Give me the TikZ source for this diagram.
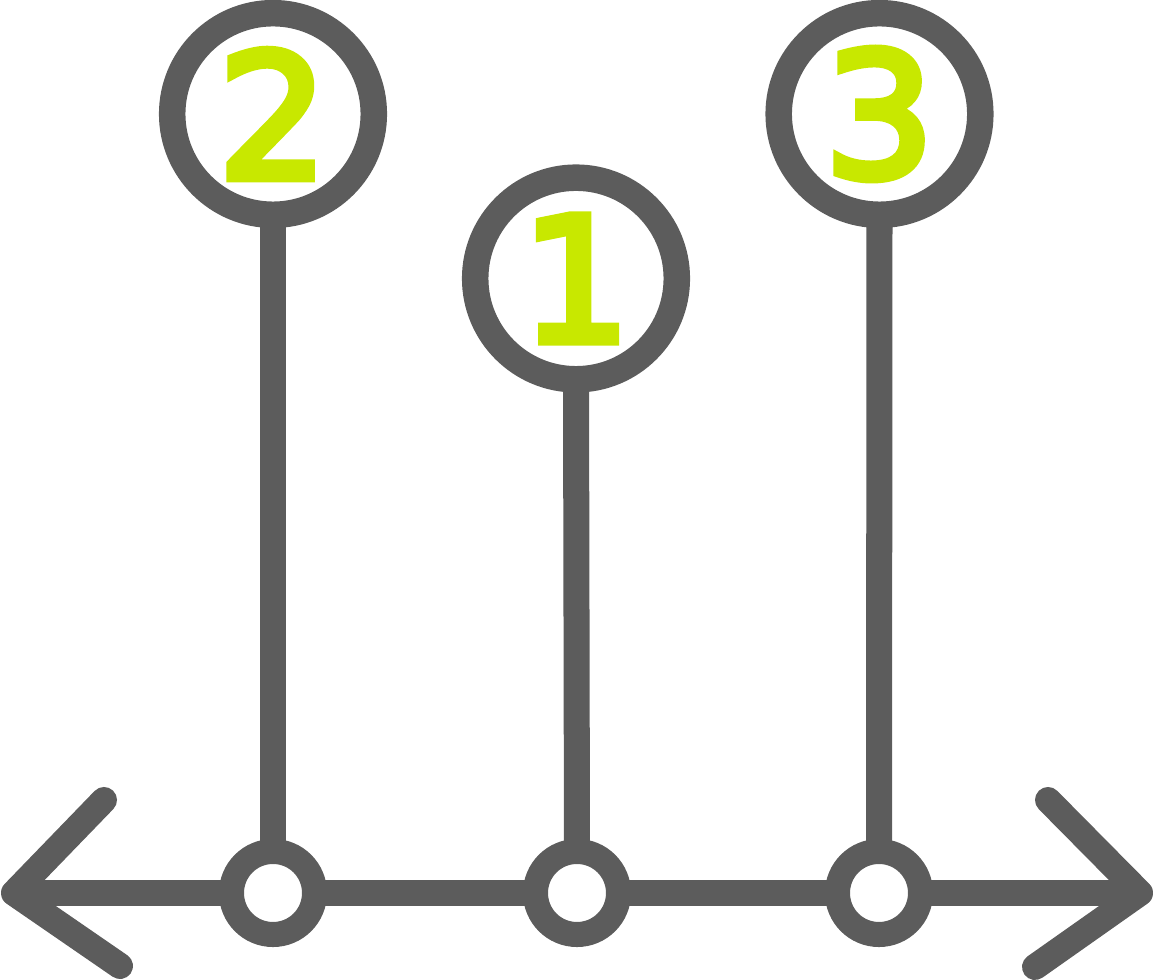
\documentclass[tikz,border=0pt]{standalone}
\usepackage{fontspec}
\newfontfamily\digitfont{DejaVu Sans}[RawFeature={embolden=5}]
\definecolor{icongray}{RGB}{92,92,92}
\definecolor{icongreen}{RGB}{200,232,0}
\begin{document}
\begin{tikzpicture}[x=0.01cm,y=-0.01cm,
  ln/.style={draw=icongray,line width=0.26cm},
  bigc/.style={circle,draw=icongray,line width=0.265cm,minimum size=2.015cm,inner sep=0pt,outer sep=0pt,
    text=icongreen,font=\digitfont\fontsize{49pt}{49pt}\selectfont},
  smallc/.style={circle,draw=icongray,line width=0.25cm,minimum size=0.83cm,inner sep=0pt,outer sep=0pt},
  head/.style={ln,line cap=round,line join=round}]
\useasboundingbox (0,0) rectangle (1154,980);
% top circles with numbers
\node[bigc] (c2) at (273,114) {2};
\node[bigc] (c1) at (576,278.5) {1};
\node[bigc] (c3) at (879.5,114) {3};
% small circles on the axis
\node[smallc] (s2) at (273,893) {};
\node[smallc] (s1) at (577,893) {};
\node[smallc] (s3) at (879,893) {};
% arrow ends
\coordinate (L) at (14,893);
\coordinate (La) at (104,800);
\coordinate (Lb) at (120,966);
\coordinate (R) at (1140,893);
\coordinate (Ra) at (1048,800);
\coordinate (Rb) at (1035,967);
% stems
\draw[ln] (c2.south) -- (s2.north);
\draw[ln] (c1.south) -- (s1.north);
\draw[ln] (c3.south) -- (s3.north);
% axis
\draw[ln] (L) -- (s2.west);
\draw[ln] (s2.east) -- (s1.west);
\draw[ln] (s1.east) -- (s3.west);
\draw[ln] (s3.east) -- (R);
\draw[head] (La) -- (L) -- (Lb);
\draw[head] (Ra) -- (R) -- (Rb);
\end{tikzpicture}
\end{document}
